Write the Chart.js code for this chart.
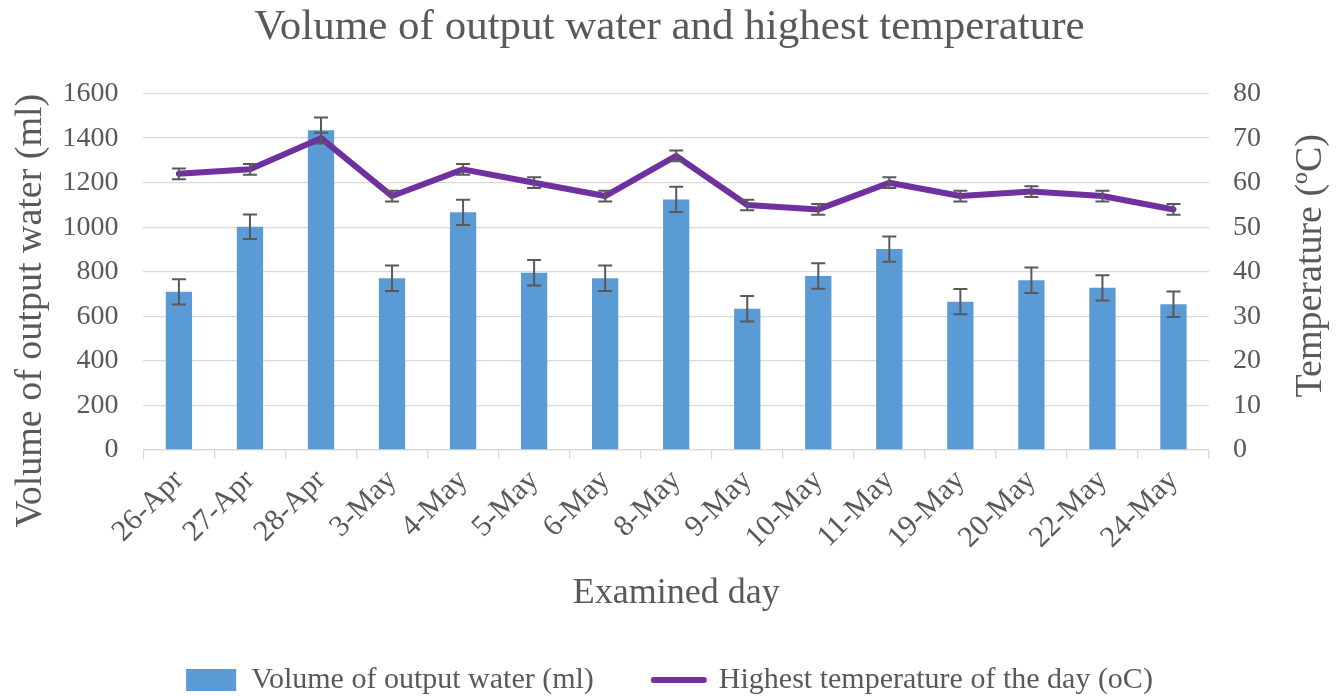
<!DOCTYPE html>
<html>
<head>
<meta charset="utf-8">
<script src="https://cdn.jsdelivr.net/npm/chart.js@4/dist/chart.umd.min.js"></script>
<style>
html,body{margin:0;padding:0;background:#ffffff;}
#wrap{width:1339px;height:696px;position:relative;}
</style>
</head>
<body>
<div id="wrap"><canvas id="c"></canvas></div>
<script>
const categories = ['26-Apr','27-Apr','28-Apr','3-May','4-May','5-May','6-May','8-May','9-May','10-May','11-May','19-May','20-May','22-May','24-May'];
const volume = [710,1002,1436,771,1067,796,771,1125,634,781,902,666,762,728,654];
const volumeErr = [57,55,57,57,57,57,57,57,57,57,57,57,57,57,57];
const temperature = [62,63,70,57,63,60,57,66,55,54,60,57,58,57,54];
const temperatureErr = [1.2,1.2,1.2,1.2,1.2,1.2,1.2,1.2,1.2,1.2,1.2,1.2,1.2,1.2,1.2];

const chartTitle = 'Volume of output water and highest temperature';
const xTitle = 'Examined day';
const yLeftTitle = 'Volume of output water (ml)';
const yRightTitle = 'Temperature (ºC)';
const seriesNames = ['Volume of output water (ml)', 'Highest temperature of the day (oC)'];

const FONT = "'Liberation Serif', 'Times New Roman', serif";
const TXT = '#595959';

const errorBarPlugin = {
  id: 'errorBars',
  afterDatasetDraw(chart, args) {
    const ds = chart.data.datasets[args.index];
    if (!ds.errorValues) return;
    const scale = chart.scales[ds.yAxisID];
    const ctx = chart.ctx;
    ctx.save();
    ctx.strokeStyle = '#595959';
    ctx.lineWidth = 2;
    args.meta.data.forEach((el, i) => {
      const v = ds.data[i], e = ds.errorValues[i];
      const x = el.x;
      const yT = scale.getPixelForValue(v + e);
      const yB = scale.getPixelForValue(v - e);
      ctx.beginPath();
      ctx.moveTo(x, yT); ctx.lineTo(x, yB);
      ctx.moveTo(x - 7, yT); ctx.lineTo(x + 7, yT);
      ctx.moveTo(x - 7, yB); ctx.lineTo(x + 7, yB);
      ctx.stroke();
    });
    ctx.restore();
  }
};

// vertical axis titles, both reading bottom-to-top as in the reference
const axisTitlePlugin = {
  id: 'axisTitles',
  afterDraw(chart) {
    const ctx = chart.ctx;
    const a = chart.chartArea;
    const mid = (a.top + a.bottom) / 2;
    ctx.save();
    ctx.font = '38px ' + FONT;
    ctx.fillStyle = TXT;
    ctx.textAlign = 'center';
    ctx.textBaseline = 'middle';
    ctx.save();
    ctx.translate(31, mid + 39);
    ctx.rotate(-Math.PI / 2);
    ctx.fillText(yLeftTitle, 0, 0);
    ctx.restore();
    ctx.save();
    ctx.translate(1311, mid - 6);
    ctx.rotate(-Math.PI / 2);
    ctx.fillText(yRightTitle, 0, 0);
    ctx.restore();
    ctx.restore();
  }
};

new Chart(document.getElementById('c'), {
  type: 'bar',
  data: {
    labels: categories,
    datasets: [
      {
        type: 'bar',
        label: seriesNames[0],
        data: volume,
        errorValues: volumeErr,
        yAxisID: 'y',
        backgroundColor: '#5B9BD5',
        borderWidth: 0,
        barPercentage: 0.37,
        categoryPercentage: 1.0,
        order: 2
      },
      {
        type: 'line',
        label: seriesNames[1],
        data: temperature,
        errorValues: temperatureErr,
        yAxisID: 'y1',
        borderColor: '#7030A0',
        backgroundColor: '#7030A0',
        borderWidth: 6,
        pointRadius: 0,
        tension: 0,
        borderJoinStyle: 'round',
        borderCapStyle: 'round',
        order: 1
      }
    ]
  },
  options: {
    responsive: true,
    maintainAspectRatio: false,
    animation: false,
    devicePixelRatio: 1,
    layout: { padding: { top: 2, left: 0, right: 0, bottom: -9 } },
    plugins: {
      tooltip: { enabled: false },
      title: {
        display: true,
        text: chartTitle,
        color: TXT,
        font: { family: FONT, size: 43, weight: 'normal' },
        padding: { top: 0, bottom: 40 }
      },
      legend: {
        position: 'bottom',
        labels: {
          color: TXT,
          font: { family: FONT, size: 30 },
          usePointStyle: true,
          pointStyleWidth: 50,
          boxHeight: 22,
          padding: 60,
          generateLabels() {
            return [
              { text: seriesNames[0], fillStyle: '#5B9BD5', strokeStyle: '#5B9BD5', lineWidth: 0, pointStyle: 'rect', datasetIndex: 0, fontColor: TXT },
              { text: seriesNames[1], fillStyle: '#7030A0', strokeStyle: '#7030A0', lineWidth: 6, lineCap: 'round', pointStyle: 'line', datasetIndex: 1, fontColor: TXT }
            ];
          }
        }
      }
    },
    scales: {
      x: {
        offset: true,
        grid: { display: true, drawOnChartArea: false, drawTicks: true, tickLength: 9, color: '#D9D9D9', lineWidth: 1.3, offset: true },
        border: { display: true, color: '#D9D9D9', width: 1.3 },
        ticks: { color: TXT, font: { family: FONT, size: 30 }, maxRotation: 45, minRotation: 45, padding: 4, autoSkip: false },
        title: { display: true, text: xTitle, color: TXT, font: { family: FONT, size: 36 }, padding: { top: 0, bottom: -10 } },
        afterFit(scale) { scale.height = 155; }
      },
      y: {
        position: 'left',
        min: 0, max: 1600,
        ticks: { stepSize: 200, color: TXT, font: { family: FONT, size: 28 }, padding: 25, format: { useGrouping: false } },
        grid: { color: '#D9D9D9', lineWidth: 1.3, drawTicks: false },
        border: { display: false },
        afterFit(scale) { scale.width = 143.4; }
      },
      y1: {
        position: 'right',
        min: 0, max: 80,
        ticks: { stepSize: 10, color: TXT, font: { family: FONT, size: 28 }, padding: 24, format: { useGrouping: false } },
        grid: { display: false, drawTicks: false },
        border: { display: false },
        afterFit(scale) { scale.width = 130; }
      }
    }
  },
  plugins: [errorBarPlugin, axisTitlePlugin]
});
</script>
</body>
</html>
